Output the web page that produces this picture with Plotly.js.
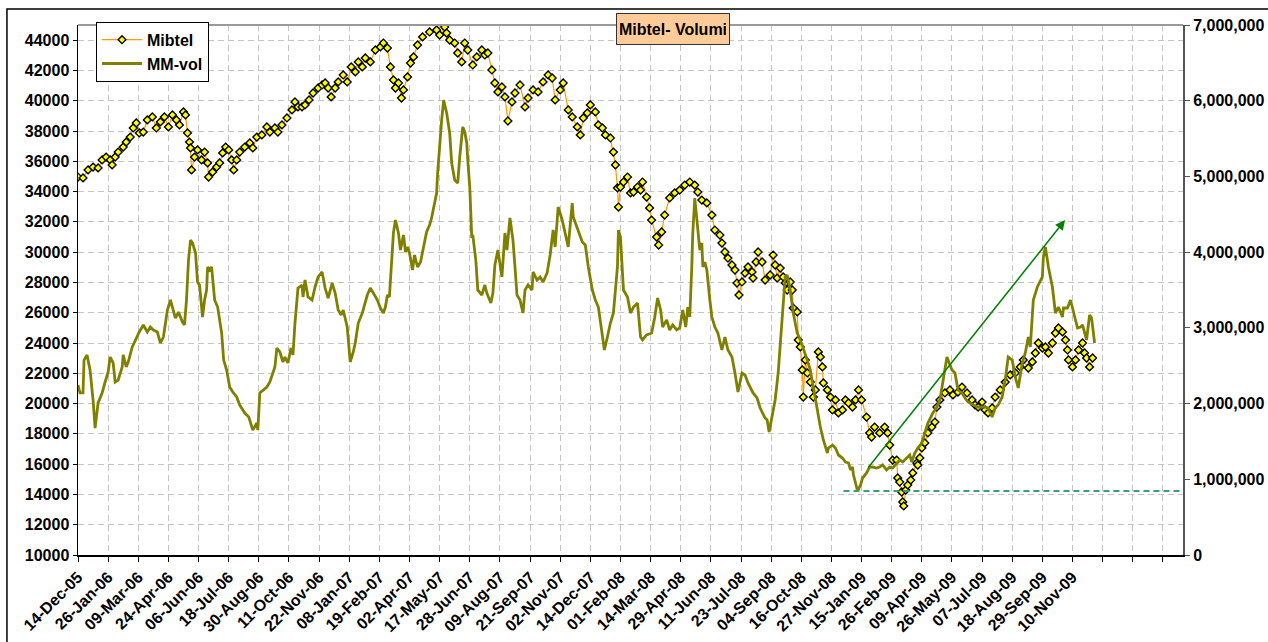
<!DOCTYPE html>
<html>
<head>
<meta charset="utf-8">
<script src="https://cdn.plot.ly/plotly-3.0.1.min.js"></script>
<style>
html,body{margin:0;padding:0;background:#fff;}
#chart{width:1268px;height:642px;}
</style>
</head>
<body>
<div id="chart"></div>
<script>
// Category axis: trading-day index, a label every 30 trading days
const tickLabels = ['14-Dec-05','26-Jan-06','09-Mar-06','24-Apr-06','06-Jun-06','18-Jul-06','30-Aug-06','11-Oct-06','22-Nov-06','08-Jan-07','19-Feb-07','02-Apr-07','17-May-07','28-Jun-07','09-Aug-07','21-Sep-07','02-Nov-07','14-Dec-07','01-Feb-08','14-Mar-08','29-Apr-08','11-Jun-08','23-Jul-08','04-Sep-08','16-Oct-08','27-Nov-08','15-Jan-09','26-Feb-09','09-Apr-09','26-May-09','07-Jul-09','18-Aug-09','29-Sep-09','10-Nov-09','','',''];
const tickStep = 30;
const dayCount = 1100;

// Mibtel index (left axis)
const mibtelDay = [0,5,10,15,20,24,28,32,34,37,40,45,48,52,55,58,61,65,69,74,78,82,86,90,94,98,101,105,107,109,111,112,113,116,119,123,126,129,130,134,138,141,144,147,150,153,155,158,161,166,171,174,178,183,188,191,196,199,203,208,213,216,219,223,226,230,234,239,243,246,249,252,256,259,264,268,272,276,279,283,286,291,296,301,304,308,311,314,316,319,322,324,328,331,334,338,343,350,357,360,365,367,370,375,378,382,385,388,393,397,402,405,408,412,415,418,422,425,428,432,435,440,445,448,453,458,463,468,472,475,480,483,488,492,497,500,503,507,510,515,518,522,525,530,533,535,537,538,540,543,547,550,553,557,560,562,566,569,571,576,578,581,584,589,594,599,604,609,614,617,621,626,631,634,639,641,644,647,651,654,656,658,661,664,667,671,672,675,677,681,684,689,692,694,696,699,702,704,706,709,711,712,716,717,719,721,722,724,726,729,732,734,737,739,741,742,746,749,751,754,757,761,764,767,771,774,777,780,785,788,790,793,798,803,806,808,811,815,816,818,820,821,822,824,826,829,831,835,836,838,840,843,846,850,853,855,858,863,868,871,876,880,885,890,893,896,900,903,906,910,913,918,923,928,933,938,941,946,950,953,956,960,963,966,970,973,976,980,983,985,986,990,993,996,1000,1002,1004,1007,1010];
const mibtelVal = [34960,34900,35430,35620,35560,36090,36280,36090,35760,36280,36610,36940,37270,37600,38200,38530,37870,37930,38730,38930,38200,38600,38930,38270,39060,38730,38400,39260,39060,37870,37270,36880,35430,36280,36750,36090,36610,35890,34960,35290,35620,35890,36550,36940,36750,36090,35430,36090,36610,36940,37210,36880,37600,37740,38270,37930,38200,37930,38400,38860,39390,39920,39590,39590,39720,40050,40510,40840,41040,41170,40840,40250,40840,41240,41700,41240,42230,41900,42560,42230,42820,42560,43350,43550,43810,43480,42230,41370,40840,41170,40180,40710,41570,42490,42890,43680,44210,44540,44670,44340,44870,44470,44010,43810,43150,42560,43810,43350,42360,42890,43350,43020,43150,42030,41170,40580,40910,40250,38660,39920,40510,41040,39590,40180,40710,40580,41240,41700,41500,40050,40710,41170,39390,38930,38270,37740,38860,39190,39720,39260,38400,38200,37740,37540,36610,35760,34240,32980,34300,34630,34960,33910,33970,34300,34100,34630,33640,32920,32120,31000,30470,31330,32450,33580,33910,34100,34430,34630,34430,33970,33440,33250,32450,31460,31130,30600,30010,29610,29150,28820,27960,27170,28030,28620,29020,28690,28290,29350,30010,29350,28160,28490,29810,29150,28290,28950,28360,27960,27500,28030,27500,26310,26050,24200,23740,22220,20430,22880,22020,21420,20430,20900,23410,23080,22420,21360,20900,20430,19580,20240,19380,19580,20240,20040,19770,20240,20900,20240,19110,18060,17790,18450,18060,18450,18060,17260,16270,16270,15090,14820,14160,13500,13240,14290,14620,14950,15420,16080,15940,16410,17070,17400,18060,18450,18780,19770,20240,20700,20900,20570,20760,21090,20700,20240,19910,19770,20100,19580,19380,19710,20430,20900,21420,21890,22020,22420,22880,22350,22750,23340,24000,23670,23740,23340,24000,24660,24990,24730,24200,23540,22880,22420,22880,23540,24000,23340,23010,22420,23010];

// MM-vol (moving average of volumes, right axis)
const volDay = [0,2,5,6,9,12,15,17,20,24,27,30,32,35,37,40,44,45,48,50,54,57,61,65,69,72,75,79,82,85,89,92,95,97,100,104,106,108,110,112,114,117,119,121,124,126,128,129,131,133,136,139,143,145,148,151,154,158,161,166,170,174,178,179,181,184,188,191,194,196,198,201,204,206,209,212,214,216,219,223,224,226,229,233,236,239,243,246,249,253,256,259,262,264,268,271,274,276,279,283,288,291,294,298,301,304,306,308,310,312,314,316,319,321,323,324,326,328,330,333,335,338,341,344,347,350,352,355,357,358,360,362,364,365,367,370,372,375,378,380,382,383,385,387,388,390,392,393,396,398,402,405,407,411,413,415,418,422,425,427,430,433,435,437,440,443,445,448,452,453,457,460,463,467,470,473,475,478,482,485,488,492,493,497,502,505,508,512,515,518,522,524,527,530,533,537,538,540,543,547,550,553,557,560,562,566,571,574,577,580,582,586,589,592,596,599,602,605,607,609,611,612,614,617,619,621,622,624,626,629,631,634,637,641,644,647,651,654,657,661,664,667,672,676,679,684,686,688,691,694,697,701,704,706,709,712,716,719,722,726,729,732,735,737,739,742,746,747,751,754,757,761,764,767,769,771,772,774,776,779,781,785,788,791,795,798,801,805,808,811,815,818,821,825,828,830,833,836,840,843,846,851,855,858,861,865,870,873,876,880,883,886,891,896,901,906,910,913,916,920,923,926,930,933,936,940,943,946,948,951,955,958,960,961,963,965,966,970,973,976,980,981,985,988,991,995,998,1000,1004,1007,1009,1012];
const volVal = [2245000,2140000,2140000,2575000,2642000,2443000,2047000,1677000,2008000,2140000,2285000,2417000,2615000,2536000,2285000,2311000,2483000,2642000,2483000,2549000,2747000,2840000,2945000,3038000,2945000,3011000,2972000,2945000,2800000,2879000,3236000,3368000,3236000,3130000,3209000,3077000,3038000,3368000,3896000,4160000,4121000,3989000,3606000,3566000,3143000,3368000,3500000,3804000,3764000,3804000,3368000,3275000,2932000,2575000,2443000,2219000,2153000,2087000,1981000,1875000,1823000,1651000,1743000,1651000,2140000,2179000,2219000,2285000,2404000,2483000,2734000,2681000,2549000,2615000,2536000,2734000,2642000,3064000,3526000,3566000,3408000,3632000,3408000,3368000,3540000,3672000,3738000,3526000,3394000,3592000,3460000,3236000,3170000,3236000,3011000,2549000,2681000,2800000,3064000,3196000,3434000,3526000,3460000,3368000,3262000,3196000,3275000,3434000,3408000,3804000,4253000,4425000,4253000,4028000,4200000,4226000,4002000,4068000,3989000,3764000,3962000,3804000,3870000,4094000,4266000,4358000,4451000,4649000,4781000,5045000,5441000,5745000,6009000,5943000,5838000,5574000,5177000,4953000,4913000,5257000,5574000,5653000,5587000,5441000,5217000,4860000,4187000,4226000,3896000,3500000,3434000,3566000,3460000,3328000,3460000,3830000,4028000,3672000,4253000,4028000,4451000,4160000,3804000,3434000,3368000,3196000,3500000,3566000,3500000,3738000,3632000,3672000,3606000,3725000,3962000,4292000,4068000,4596000,4425000,4253000,4068000,4649000,4464000,4319000,4134000,4094000,3804000,3500000,3368000,3275000,2932000,2708000,2879000,3064000,3196000,3804000,4292000,4200000,3500000,3408000,3196000,3275000,3328000,2879000,2840000,2906000,2932000,3130000,3394000,3236000,3011000,3104000,2972000,3038000,2972000,2998000,3236000,3011000,3275000,3143000,3804000,4253000,4715000,4253000,4028000,4121000,3804000,3870000,3764000,3368000,3143000,3011000,2932000,2708000,2879000,2708000,2615000,2404000,2153000,2404000,2377000,2272000,2140000,2074000,1942000,1809000,1783000,1625000,1849000,2047000,2404000,3104000,3672000,3698000,3500000,3196000,2932000,2840000,2734000,2575000,2443000,2219000,1942000,1809000,1691000,1519000,1347000,1413000,1453000,1413000,1321000,1281000,1228000,1215000,1123000,1162000,1057000,951000,845000,925000,1017000,1083000,1162000,1162000,1149000,1162000,1189000,1123000,1162000,1149000,1215000,1255000,1228000,1281000,1321000,1228000,1347000,1413000,1479000,1611000,1743000,1875000,1955000,2047000,2311000,2615000,2443000,2404000,2179000,2140000,2074000,2021000,1981000,1955000,1955000,1942000,1823000,1942000,1981000,2087000,2311000,2615000,2575000,2351000,2206000,2536000,2668000,2879000,2747000,3368000,3540000,3632000,3672000,3936000,4068000,3896000,3804000,3540000,3196000,3275000,3143000,3262000,3262000,3368000,3196000,2998000,3011000,3038000,2840000,3170000,3130000,2800000];

// Annotations drawn on the chart (trend arrow and support line), in data units
const arrowFrom = {day: 785.5, mibtel: 15680};
const arrowTo = {day: 982.6, mibtel: 32120};
const supportLine = {fromDay: 762, toDay: 1100, vol: 845000};

const FONT = 'Liberation Sans, Arial, Helvetica, sans-serif';
const tickVals = tickLabels.map((_, i) => i * tickStep);

const traces = [
  {
    x: mibtelDay, y: mibtelVal, name: 'Mibtel', type: 'scatter', mode: 'lines+markers',
    line: {color: '#FF9900', width: 1.2},
    marker: {symbol: 'diamond', size: 6, color: '#FFFF00', line: {color: '#000000', width: 1.4}},
    yaxis: 'y'
  },
  {
    x: volDay, y: volVal, name: 'MM-vol', type: 'scatter', mode: 'lines',
    line: {color: '#808000', width: 2.8},
    yaxis: 'y2'
  }
];

const gridStyle = {showgrid: true, gridcolor: '#c4c4c4', gridwidth: 1, griddash: '6px,4px'};

const layout = {
  width: 1268, height: 642,
  margin: {l: 78, r: 85, t: 25, b: 87, pad: 0},
  paper_bgcolor: '#ffffff', plot_bgcolor: '#ffffff',
  font: {family: FONT, size: 16, color: '#000000', weight: 700},
  showlegend: true,
  legend: {
    x: 0.0163, y: 1.006, xanchor: 'left', yanchor: 'top',
    bgcolor: '#ffffff', bordercolor: '#000000', borderwidth: 1,
    font: {family: FONT, size: 16, color: '#000', weight: 700},
    tracegroupgap: 0, itemwidth: 40
  },
  xaxis: Object.assign({
    type: 'linear', range: [0, dayCount], autorange: false,
    tickmode: 'array', tickvals: tickVals, ticktext: tickLabels,
    tickangle: -45, ticks: 'outside', ticklen: 5, tickcolor: '#000', tickwidth: 1,
    tickfont: {family: FONT, size: 16, color: '#000', weight: 700},
    showline: true, linecolor: '#000000', linewidth: 1.5, zeroline: false
  }, gridStyle),
  yaxis: Object.assign({
    range: [10000, 45000], autorange: false, tickmode: 'linear', tick0: 10000, dtick: 2000,
    ticks: 'outside', ticklen: 4, tickcolor: '#000', tickwidth: 1,
    tickfont: {family: FONT, size: 16, color: '#000', weight: 700},
    showline: true, linecolor: '#000000', linewidth: 1.5, zeroline: false,
    tickformat: 'd'
  }, gridStyle),
  yaxis2: {
    overlaying: 'y', side: 'right', range: [0, 7000000], autorange: false,
    tickmode: 'linear', tick0: 0, dtick: 1000000, tickformat: ',d',
    ticks: 'outside', ticklen: 5, tickcolor: '#555', tickwidth: 1,
    tickfont: {family: FONT, size: 16, color: '#000', weight: 700},
    showline: true, linecolor: '#555555', linewidth: 2, showgrid: false, zeroline: false
  },
  shapes: [
    // outer chart border
    {type: 'rect', xref: 'paper', yref: 'paper', x0: -0.0643, x1: 1.2, y0: -0.3, y1: 1.0302,
     line: {color: '#000', width: 1.5}, fillcolor: 'rgba(0,0,0,0)', layer: 'below'},
    // plot area top border
    {type: 'line', xref: 'paper', yref: 'paper', x0: 0, x1: 1, y0: 1, y1: 1,
     line: {color: '#999999', width: 2}},
    // support line at MM-vol low
    {type: 'line', xref: 'x', yref: 'y2', x0: supportLine.fromDay, x1: supportLine.toDay,
     y0: supportLine.vol, y1: supportLine.vol,
     line: {color: '#3d9e70', width: 2, dash: '6px,4px'}}
  ],
  annotations: [
    {xref: 'paper', yref: 'paper', x: 0.5385, y: 0.9925, xanchor: 'center', yanchor: 'middle',
     text: 'Mibtel- Volumi', showarrow: false,
     font: {family: FONT, size: 16, color: '#000', weight: 700},
     bgcolor: '#FFCC99', bordercolor: '#333333', borderwidth: 1, borderpad: 3,
     width: 106, height: 24},
    {xref: 'x', yref: 'y', axref: 'x', ayref: 'y',
     x: arrowTo.day, y: arrowTo.mibtel, ax: arrowFrom.day, ay: arrowFrom.mibtel,
     text: '', showarrow: true, arrowhead: 2, arrowsize: 1.3, arrowwidth: 1.5, arrowcolor: '#008000',
     standoff: 0, startstandoff: 0}
  ]
};

Plotly.newPlot('chart', traces, layout, {displayModeBar: false, staticPlot: true});
</script>
</body>
</html>
